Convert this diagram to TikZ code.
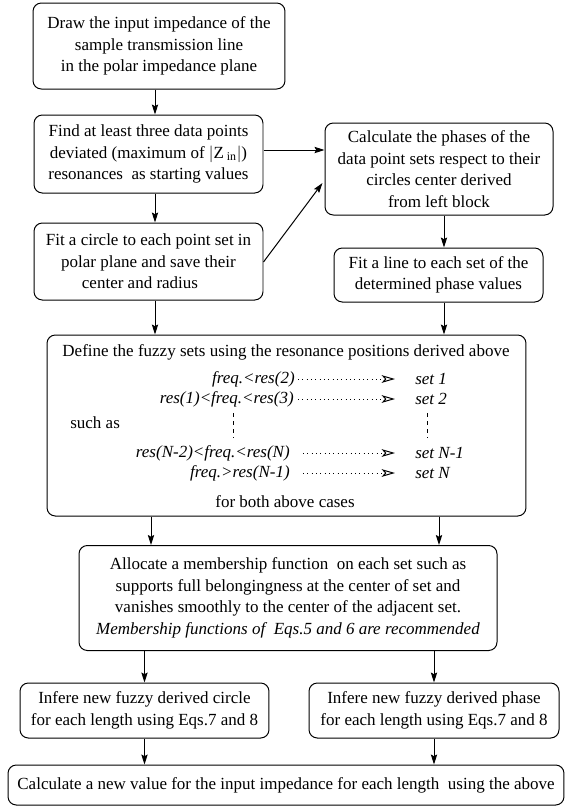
\documentclass[tikz,border=0pt]{standalone}
\usepackage{fontspec}
\setmainfont{Liberation Serif}
\usetikzlibrary{arrows.meta, positioning, calc}

\begin{document}
\begin{tikzpicture}[
    x=0.6pt, y=-0.6pt,
    font=\fontsize{10.2pt}{12.9pt}\selectfont,
    box/.style={rectangle, draw=black, line width=0.6pt, rounded corners=5pt, align=center, inner sep=2pt},
    setrow/.style={inner sep=0pt, font=\fontsize{10.2pt}{12.9pt}\selectfont\itshape},
    arr/.style={-{Stealth[length=6pt, width=3.8pt, inset=1pt]}, line width=0.6pt},
    dotarr/.style={-{Stealth[open, length=8pt, width=4.6pt, inset=2pt]}, line width=0.6pt, dotted},
    gap/.style={line width=0.6pt, dash pattern=on 2.4pt off 2.4pt}
]
    \useasboundingbox (0,0) rectangle (566,807);

    % left column
    \node[box, minimum width=151.2pt, minimum height=51.6pt] (draw_z) at (159,46) {Draw the input impedance of the\\sample transmission line\\in the polar impedance plane};
    \node[box, minimum width=137.4pt, minimum height=46.8pt] (find_pts) at (148.5,154) {Find at least three data points\\deviated (maximum of \(|\)Z\,\textsubscript{in}\(|\))\\resonances\ \ as starting values};
    \node[box, minimum width=137.4pt, minimum height=46.2pt] (fit_circ) at (148.5,261.5) {Fit a circle to each point set in\\polar plane and save their\\center and radius\hspace*{1em}};

    % right column
    \node[box, minimum width=136.8pt, minimum height=55.2pt] (phases) at (439,169) {Calculate the phases of the\\data point sets respect to their\\circles center derived\hspace*{1.2em}\\from left block};
    \node[box, minimum width=125.4pt, minimum height=32.4pt] (fit_line) at (438.5,275) {Fit a line to each set of the\\determined phase values};

    % fuzzy set block
    \node[box, minimum width=287.4pt, minimum height=108.6pt] (fuzzy) at (286.5,425.5) {};
    \node[inner sep=0pt] (def_txt) at (286,352) {Define the fuzzy sets using the resonance positions derived above};
    \node[inner sep=0pt, anchor=west] (such_as) at (70,423) {such as};
    \node[inner sep=0pt] (both_txt) at (285,502) {for both above cases};

    \node[setrow, anchor=east] (r1) at (295,379) {freq.<res(2)};
    \node[setrow, anchor=east] (r2) at (294,399) {res(1)<freq.<res(3)};
    \node[setrow, anchor=east] (r3) at (290,453) {res(N-2)<freq.<res(N)};
    \node[setrow, anchor=east] (r4) at (290,473) {freq.>res(N-1)};
    \node[setrow, anchor=west] (s1) at (415,379) {set 1};
    \node[setrow, anchor=west] (s2) at (415,399) {set 2};
    \node[setrow, anchor=west] (s3) at (415,453) {set N-1};
    \node[setrow, anchor=west] (s4) at (415,473) {set N};

    \draw[dotarr] ([xshift=1.8pt]r1.east) -- ([xshift=-12pt]s1.west);
    \draw[dotarr] ([xshift=2.4pt]r2.east) -- ([xshift=-12pt]s2.west);
    \draw[dotarr] ([xshift=7.8pt]r3.east) -- ([xshift=-12pt]s3.west);
    \draw[dotarr] ([xshift=7.8pt]r4.east) -- ([xshift=-12pt]s4.west);
    \draw[gap] (233,413) -- (233,438);
    \draw[gap] (427,413) -- (427,438);

    % lower blocks
    \node[box, minimum width=250.8pt, minimum height=63pt] (member) at (288,598) {Allocate a membership function\ \ on each set such as\\supports full belongingness at the center of set and\\vanishes smoothly to the center of the adjacent set.\\\textit{Membership functions of\ \ Eqs.5 and 6 are recommended}};
    \node[box, minimum width=149.4pt, minimum height=33pt] (new_circ) at (144.5,710.5) {Infere new fuzzy derived circle\\for each length using Eqs.7 and 8};
    \node[box, minimum width=150pt, minimum height=33pt] (new_phase) at (434,710.5) {Infere new fuzzy derived phase\\for each length using Eqs.7 and 8};
    \node[box, minimum width=333.6pt, minimum height=24pt] (new_z) at (286,785) {Calculate a new value for the input impedance for each length\ \ using the above};

    % column guides for the vertical arrows
    \coordinate (lc) at (155,0);
    \coordinate (rc) at (444,0);
    \coordinate (lf) at (151,0);
    \coordinate (rf) at (439,0);
    \coordinate (h1) at (0,150);
    \coordinate (d1) at (0,262);
    \coordinate (d2) at (0,183);

    \draw[arr] (draw_z.south -| lc) -- (find_pts.north -| lc);
    \draw[arr] (find_pts.south -| lc) -- (fit_circ.north -| lc);
    \draw[arr] (fit_circ.south -| lc) -- (fuzzy.north -| lc);
    \draw[arr] (find_pts.east |- h1) -- (phases.west |- h1);
    \draw[arr] (fit_circ.east |- d1) -- ([xshift=-1.2pt]phases.west |- d2);
    \draw[arr] (phases.south -| rc) -- (fit_line.north -| rc);
    \draw[arr] (fit_line.south -| rc) -- (fuzzy.north -| rc);

    \draw[arr] (fuzzy.south -| lf) -- (member.north -| lf);
    \draw[arr] (fuzzy.south -| rf) -- (member.north -| rf);
    \draw[arr] (member.south -| new_circ.north) -- (new_circ.north);
    \draw[arr] (member.south -| new_phase.north) -- (new_phase.north);
    \draw[arr] (new_circ.south) -- (new_z.north -| new_circ.south);
    \draw[arr] (new_phase.south) -- (new_z.north -| new_phase.south);
\end{tikzpicture}
\end{document}
